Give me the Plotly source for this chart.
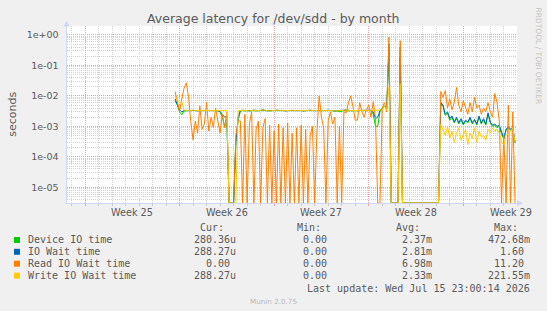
import numpy as np
import pandas as pd
import plotly.graph_objects as go

W, H = 547, 311

# ---------------- data ----------------
# 4-hour samples (milliseconds) starting 2026-06-20 16:00
sample_start = "2026-06-20 16:00"
sample_step = "4h"

read_ms = [
    14, 6, 3, 8, 18, 27, 9, 1.4, 0.36, 1.5,
    0.6, 4.7, 0.8, 1.2, 6, 0.7, 2, 0.9, 4, 1.5,
    0.6, 2.5, 0.9, 3, 0, 0, 0, 0.5, 1.5, 1.5,
    0, 2.5, 0, 1.2, 3, 0, 0.8, 1.5, 0, 0.9,
    1.8, 0, 1.1, 0, 0.7, 0, 1.2, 0, 0.9, 0,
    1.3, 0, 0.6, 0, 0.9, 0, 1.1, 0, 0.8, 0,
    0.5, 1.0, 0, 0.7, 10, 2, 0.9, 0, 1.5, 3,
    1.2, 2, 0, 1.0, 0, 3, 2.8, 6, 10, 4.5,
    1.6, 1.6, 6, 3, 2, 3.5, 5, 2, 6.5, 2,
    0, 0, 4, 6, 3, 850, 0, 0, 0, 0,
    650, 0, 0, 0, 0, 0, 0, 0, 0, 0,
    0, 0, 0, 0, 0, 0, 0, 0, 14, 9,
    15, 4, 8, 3.5, 6, 19, 5, 3, 7, 4,
    2.5, 6, 3, 9, 4, 5, 2.5, 4, 3, 6,
    3, 2, 12, 6, 1.5, 0, 0.5, 0, 5, 0,
    3, 0,
]

write_ms = [
    10, 7, 6, 6.5, 3.4, 3.3, 3.3, 3.3, 3.4, 3.3,
    3.3, 3.3, 3.4, 3.3, 3.3, 3.3, 3.3, 3.3, 3.4, 3.3,
    3.3, 3.3, 3.3, 3.3, 0, 0, 0, 0, 3.3, 3.3,
    3.4, 3.3, 3.3, 3.2, 3.3, 3.4, 3.3, 3.3, 3.3, 3.5,
    3.3, 3.3, 3.2, 3.3, 3.3, 3.4, 3.3, 3.3, 3.3, 3.2,
    3.3, 3.3, 3.4, 3.3, 3.3, 3.3, 3.3, 3.2, 3.3, 3.3,
    3.4, 3.3, 3.3, 3.3, 3.2, 3.3, 3.3, 3.3, 3.4, 3.3,
    3.3, 3.2, 3.3, 3.3, 3.3, 3.4, 3.5, 3.3, 3.3, 3.3,
    3.3, 3.3, 3.4, 3.3, 3.3, 3.3, 3.3, 3.4, 3.3, 3.3,
    3.3, 3.4, 4, 4.5, 3.5, 20, 0, 0, 0, 0,
    25, 0, 0, 0, 0, 0, 0, 0, 0, 0,
    0, 0, 0, 0, 0, 0, 0, 0, 1.2, 0.8,
    0.5, 1.0, 0.4, 0.7, 0.3, 0.6, 0.9, 0.35, 0.5, 0.8,
    0.25, 0.6, 0.4, 0.9, 0.3, 0.7, 0.45, 0.5, 0.35, 0.8,
    0.6, 0.9, 0.7, 0.8, 0.6, 0.3, 0.25, 0.5, 0.6, 0.7,
    0.9, 0.288,
]

device_ms = [
    7, 5, 3, 2.4, 3.2, 3.3, 3.3, 3.3, 3.4, 3.3,
    3.2, 3.3, 3.3, 3.4, 3.3, 3.3, 3.3, 3.3, 3.3, 3.2,
    3.0, 2.0, 1.0, 1.3, 0, 0, 0, 0.3, 1.5, 3.2,
    3.3, 3.2, 3.3, 3.2, 3.3, 3.3, 3.2, 3.3, 3.3, 3.4,
    3.3, 3.2, 3.2, 3.3, 3.3, 3.3, 3.3, 3.2, 3.3, 3.2,
    3.3, 3.3, 3.3, 3.3, 3.2, 3.3, 3.3, 3.2, 3.3, 3.3,
    3.3, 3.3, 3.2, 3.3, 3.2, 3.3, 3.3, 3.3, 3.3, 3.2,
    3.3, 3.1, 3.2, 3.0, 3.2, 3.3, 3.3, 3.2, 3.3, 3.2,
    3.3, 3.2, 3.3, 3.3, 3.3, 3.2, 3.3, 3.3, 2.5, 1.0,
    1.0, 3.0, 4, 4.5, 3.8, 300, 0, 0, 0, 0,
    200, 0, 0, 0, 0, 0, 0, 0, 0, 0,
    0, 0, 0, 0, 0, 0, 0, 0, 5.5, 4.5,
    2.3, 2.7, 1.6, 2.0, 1.3, 1.8, 1.2, 1.6, 1.1, 1.5,
    1.3, 1.8, 1.2, 1.6, 1.1, 2.0, 1.2, 1.6, 1.1, 2.5,
    1.3, 1.0, 1.1, 0.9, 1.0, 0.55, 0.4, 0.75, 0.9, 0.75,
    0.85, 0.28,
]

iowait_ms = [
    8, 5.5, 3.5, 3.0, 3.3, 3.3, 3.3, 3.3, 3.4, 3.3,
    3.3, 3.3, 3.4, 3.3, 3.3, 3.3, 3.3, 3.3, 3.4, 3.3,
    3.1, 2.5, 2.0, 2.2, 0, 0, 0, 0.3, 2.0, 3.3,
    3.4, 3.3, 3.3, 3.2, 3.3, 3.4, 3.3, 3.3, 3.3, 3.5,
    3.3, 3.3, 3.2, 3.3, 3.3, 3.4, 3.3, 3.3, 3.3, 3.2,
    3.3, 3.3, 3.4, 3.3, 3.3, 3.3, 3.3, 3.2, 3.3, 3.3,
    3.4, 3.3, 3.3, 3.3, 3.2, 3.3, 3.3, 3.3, 3.4, 3.3,
    3.3, 3.2, 3.3, 3.3, 3.3, 3.4, 3.5, 3.3, 3.3, 3.3,
    3.3, 3.3, 3.4, 3.3, 3.3, 3.3, 3.3, 3.4, 3.0, 1.8,
    2.0, 3.3, 4, 4.5, 4.0, 500, 0, 0, 0, 0,
    400, 0, 0, 0, 0, 0, 0, 0, 0, 0,
    0, 0, 0, 0, 0, 0, 0, 0, 6, 5,
    2.5, 3, 1.8, 2.2, 1.4, 2.0, 1.3, 1.8, 1.2, 1.6,
    1.4, 2.0, 1.3, 1.7, 1.2, 2.2, 1.3, 1.8, 1.2, 2.8,
    1.4, 1.1, 1.2, 1.0, 1.1, 0.6, 0.4, 0.8, 1.0, 0.8,
    0.9, 0.288,
]

series_names = ["Device IO time", "IO Wait time", "Read IO Wait time", "Write IO Wait time"]
series_colors = ["#00CC00", "#0066B3", "#FF8000", "#FFCC00"]
series_data = [device_ms, iowait_ms, read_ms, write_ms]

cur_vals = ["280.36u", "288.27u", "0.00", "288.27u"]
min_vals = ["0.00", "0.00", "0.00", "0.00"]
avg_vals = ["2.37m", "2.81m", "6.98m", "2.33m"]
max_vals = ["472.68m", "1.60", "11.20", "221.55m"]

week_centers = ["2026-06-17 12:00", "2026-06-24 12:00", "2026-07-01 12:00",
                "2026-07-08 12:00", "2026-07-15 12:00"]
week_labels = ["Week 25", "Week 26", "Week 27", "Week 28", "Week 29"]
week_grid_start = "2026-06-14"

y_tickvals = [1, 1e-1, 1e-2, 1e-3, 1e-4, 1e-5]
y_ticktext = ["1e+00", "1e-01", "1e-02", "1e-03", "1e-04", "1e-05"]

x_range = ["2026-06-12 15:08", "2026-07-15 23:25"]
y_log_range = [-5.525, 0.295]

# ---------------- figure ----------------
FONT = "#5a5a5a"
AXIS = "#CFD6F8"
GRID = "#d2d2d2"
MGRID = "#f0a0a0"
DASH = "1px,1px"
DAY_MS = 86400000

def px(x):
    return x / W

def py(y):
    return 1 - y / H

times = pd.date_range(sample_start, periods=len(read_ms), freq=sample_step)
floor = 10 ** (y_log_range[0] + 0.006)

fig = go.Figure()
for name, color, vals in zip(series_names, series_colors, series_data):
    v = np.array(vals, dtype=float) / 1000.0
    v = np.where(v > 0, v, floor)
    fig.add_trace(go.Scatter(x=times, y=v, mode="lines", name=name,
                             line=dict(color=color, width=1), hoverinfo="skip"))

shapes = []
# axis arrows
shapes.append(dict(type="path", xref="paper", yref="paper",
                   path=f"M{px(63.5)},{py(26.5)} L{px(69.5)},{py(26.5)} L{px(66.5)},{py(21)} Z",
                   fillcolor=AXIS, line=dict(width=0)))
shapes.append(dict(type="path", xref="paper", yref="paper",
                   path=f"M{px(517)},{py(200.3)} L{px(517)},{py(206.3)} L{px(523)},{py(203.3)} Z",
                   fillcolor=AXIS, line=dict(width=0)))

ann = []
ann.append(dict(text="Average latency for /dev/sdd - by month", x=px(273), y=py(18.5),
                xref="paper", yref="paper", showarrow=False, xanchor="center", yanchor="middle",
                font=dict(family="DejaVu Sans", size=12.5, color=FONT)))
ann.append(dict(text="seconds", x=px(11.7), y=py(114), xref="paper", yref="paper",
                showarrow=False, textangle=-90, xanchor="center", yanchor="middle",
                font=dict(family="DejaVu Sans", size=11, color=FONT)))
ann.append(dict(text="RRDTOOL / TOBI OETIKER", x=px(538), y=py(5), xref="paper", yref="paper",
                showarrow=False, textangle=90, xanchor="center", yanchor="top",
                font=dict(family="DejaVu Sans", size=7.5, color="#c4c4c4")))
ann.append(dict(text="Munin 2.0.75", x=px(273), y=py(301), xref="paper", yref="paper",
                showarrow=False, xanchor="center", yanchor="middle",
                font=dict(family="DejaVu Sans", size=7.2, color="#b8b8b8")))
for wc, wl in zip(week_centers, week_labels):
    ann.append(dict(text=wl, x=wc, y=py(212.7), xref="x", yref="paper",
                    showarrow=False, xanchor="center", yanchor="middle",
                    font=dict(family="DejaVu Sans", size=9.7, color=FONT)))

MONO = dict(family="DejaVu Sans Mono", size=10, color=FONT)
NB = "\u00a0"

def pad(s):
    return s if s[-1].isalpha() else s + NB

col_edges = [238.3, 335.3, 434.1, 532.4]
headers = ["Cur:", "Min:", "Avg:", "Max:"]
for hdr, xe in zip(headers, col_edges):
    ann.append(dict(text=hdr + NB + NB, x=px(xe), y=py(227.7), xref="paper", yref="paper",
                    showarrow=False, xanchor="right", yanchor="middle", font=MONO))

row_y = [240, 251.8, 263.7, 275.6]
for k, name in enumerate(series_names):
    yy = row_y[k]
    shapes.append(dict(type="rect", xref="paper", yref="paper",
                       x0=px(14), x1=px(20), y0=py(yy + 3), y1=py(yy - 3),
                       fillcolor=series_colors[k], line=dict(width=0)))
    ann.append(dict(text=name, x=px(26), y=py(yy), xref="paper", yref="paper",
                    showarrow=False, xanchor="left", yanchor="middle", font=MONO))
    for vals, xe in zip([cur_vals, min_vals, avg_vals, max_vals], col_edges):
        ann.append(dict(text=pad(vals[k]), x=px(xe), y=py(yy), xref="paper", yref="paper",
                        showarrow=False, xanchor="right", yanchor="middle", font=MONO))

ann.append(dict(text="Last update: Wed Jul 15 23:00:14 2026", x=px(532.4), y=py(288),
                xref="paper", yref="paper", showarrow=False, xanchor="right",
                yanchor="middle", font=MONO))

fig.update_layout(
    width=W, height=H,
    margin=dict(l=0, r=0, t=0, b=0),
    paper_bgcolor="#F0F0F0", plot_bgcolor="#FFFFFF",
    showlegend=False,
    font=dict(family="DejaVu Sans", color=FONT),
    shapes=shapes, annotations=ann,
    xaxis=dict(type="date", domain=[px(66.5), px(517)], range=x_range,
               tickmode="linear", tick0=week_grid_start, dtick=7 * DAY_MS,
               showticklabels=False, ticks="outside", ticklen=2, tickcolor=MGRID,
               showgrid=True, gridcolor=MGRID, griddash=DASH, zeroline=False,
               showline=True, linecolor=AXIS, linewidth=1,
               minor=dict(dtick=DAY_MS, tick0=week_grid_start, showgrid=True,
                          gridcolor=GRID, griddash=DASH, ticks="outside",
                          ticklen=2, tickcolor="#c8c8c8")),
    yaxis=dict(type="log", domain=[1 - 203.3 / H, 1 - 26 / H], range=y_log_range,
               tickmode="array", tickvals=y_tickvals, ticktext=y_ticktext,
               ticks="", showgrid=True, gridcolor=MGRID, griddash=DASH,
               zeroline=False, showline=True, linecolor=AXIS, linewidth=1,
               ticklabelstandoff=5,
               tickfont=dict(family="DejaVu Sans", size=9.5, color=FONT),
               minor=dict(dtick="D1", showgrid=True, gridcolor=GRID, griddash=DASH)),
)

fig.write_html("out.html")
